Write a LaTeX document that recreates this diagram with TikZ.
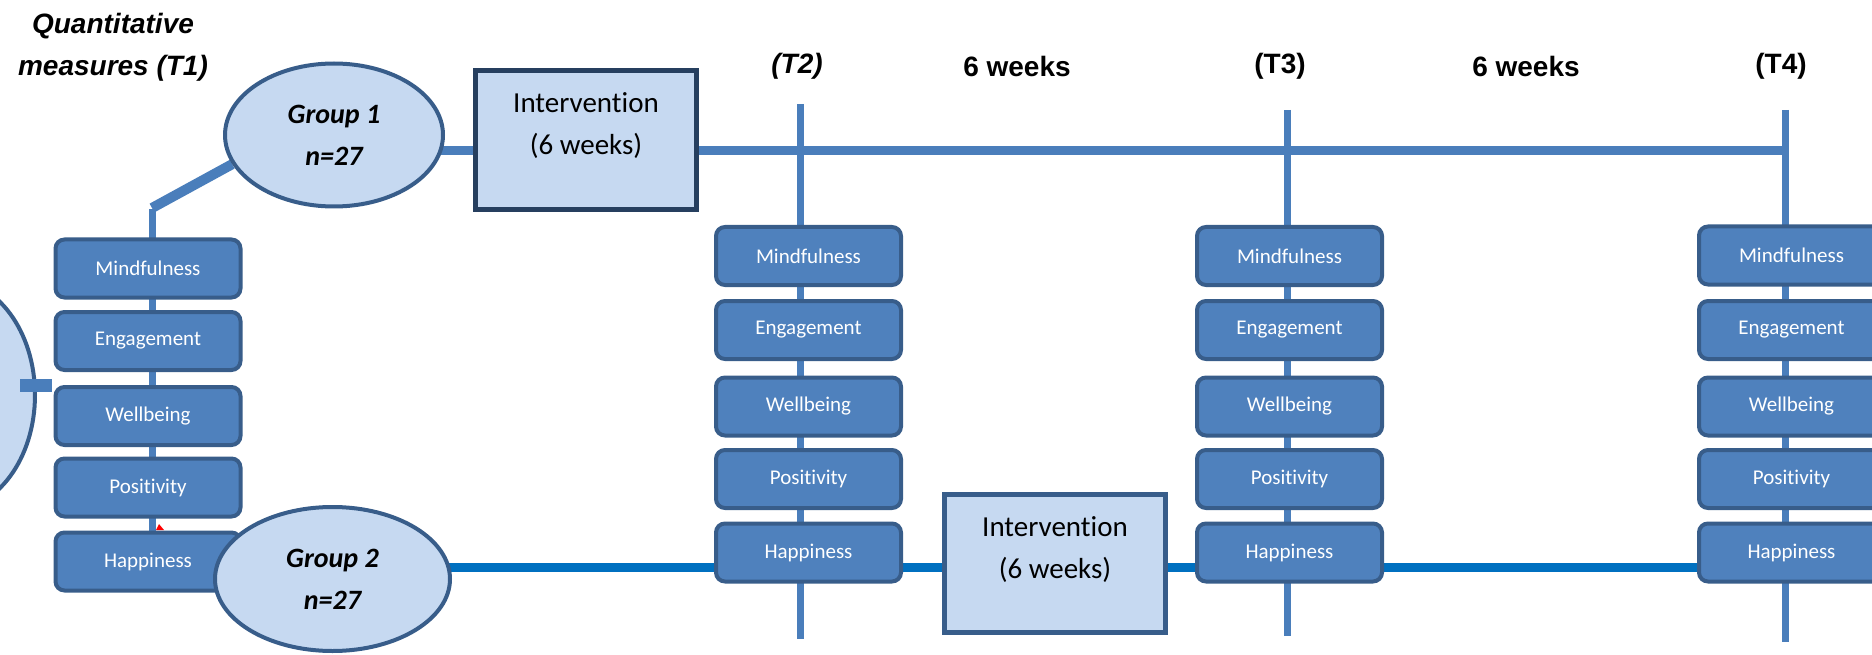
\documentclass[tikz,border=0pt]{standalone}
\usepackage{fontspec}
\setmainfont{Carlito}[Ligatures=NoCommon]
\newfontfamily\arialf{Liberation Sans}
\usetikzlibrary{shapes.geometric,backgrounds}
\definecolor{boxfill}{HTML}{4F81BD}
\definecolor{boxline}{HTML}{385D8A}
\definecolor{lightfill}{HTML}{C6D9F1}
\definecolor{navy}{HTML}{263F5F}
\definecolor{linea}{HTML}{4A7EBB}
\definecolor{lineb}{HTML}{0070C0}
\begin{document}
\begin{tikzpicture}[x=1pt,y=-1pt,
 mbox/.style={draw=boxline, fill=boxfill, line width=4pt, rounded corners=9pt, minimum width=185pt, minimum height=58pt, inner sep=0pt, text=white, font=\fontsize{21}{25}\selectfont},
 grp/.style={ellipse, draw=boxline, fill=lightfill, line width=4pt, inner sep=0pt, align=center, font=\fontsize{28}{42}\selectfont\bfseries\itshape},
 ibox/.style={draw=boxline, fill=lightfill, line width=5pt, minimum width=221pt, minimum height=139pt, inner sep=0pt},
 itext/.style={align=center, font=\fontsize{29}{42}\selectfont, inner sep=0pt},
 lbl/.style={font=\arialf\fontsize{28}{42}\selectfont\bfseries, inner sep=0pt, align=center},
 tline/.style={draw=linea, line width=7pt},
 gline/.style={draw=linea, line width=9pt},
 hline/.style={draw=lineb, line width=9pt}
]
\useasboundingbox (0,0) rectangle (1872,655);

% labels
\node[lbl, font=\arialf\fontsize{28}{42}\selectfont\bfseries\itshape] (q1) at (113,47) {Quantitative\\measures (T1)};
\node[lbl, font=\arialf\fontsize{28}{42}\selectfont\bfseries\itshape] (lt2) at (797,66) {(T2)};
\node[lbl] (w1) at (1017,66) {6 weeks};
\node[lbl] (lt3) at (1280,66) {(T3)};
\node[lbl] (w2) at (1526,66) {6 weeks};
\node[lbl] (lt4) at (1781,66) {(T4)};

% left (cut-off) ellipse
\node[ellipse, draw=boxline, fill=lightfill, line width=4pt, minimum width=170pt, minimum height=230pt] (all) at (-50,395) {};

% T1 column
\node[mbox] (t1m) at (148,268.5) {Mindfulness};
\node[mbox] (t1e) at (148,341) {Engagement};
\node[mbox] (t1w) at (148,416) {Wellbeing};
\node[mbox] (t1p) at (148,487.5) {Positivity};
\node[mbox] (t1h) at (148,561.5) {Happiness};

% groups
\node[grp, minimum width=218pt, minimum height=143pt] (g1) at (334,135) {Group 1\\n=27};
\node[grp, minimum width=235pt, minimum height=144pt] (g2) at (332.5,579) {Group 2\\n=27};

% interventions
\node[ibox, draw=navy] (i1) at (586,140) {};
\node[itext] (i1t) at ([yshift=14pt]i1.center) {Intervention\\(6 weeks)};
\node[ibox, minimum height=138pt] (i2) at (1055,563.5) {};
\node[itext] (i2t) at ([yshift=14pt]i2.center) {Intervention\\(6 weeks)};

% T2 column
\node[mbox] (t2m) at (808.5,256) {Mindfulness};
\node[mbox] (t2e) at (808.5,330) {Engagement};
\node[mbox] (t2w) at (808.5,406.5) {Wellbeing};
\node[mbox] (t2p) at (808.5,479) {Positivity};
\node[mbox] (t2h) at (808.5,552.5) {Happiness};

% T3 column
\node[mbox] (t3m) at (1289.5,256) {Mindfulness};
\node[mbox] (t3e) at (1289.5,330) {Engagement};
\node[mbox] (t3w) at (1289.5,406.5) {Wellbeing};
\node[mbox] (t3p) at (1289.5,479) {Positivity};
\node[mbox] (t3h) at (1289.5,552.5) {Happiness};

% T4 column
\node[mbox] (t4m) at (1791.5,255.5) {Mindfulness};
\node[mbox] (t4e) at (1791.5,330) {Engagement};
\node[mbox] (t4w) at (1791.5,406.5) {Wellbeing};
\node[mbox] (t4p) at (1791.5,479) {Positivity};
\node[mbox] (t4h) at (1791.5,552.5) {Happiness};

% coordinates
\coordinate (d1) at (152,208);
\coordinate (v2t) at (800,104);
\coordinate (v2b) at (800,639);
\coordinate (v3t) at (1287,110);
\coordinate (v3b) at (1287,636);
\coordinate (v4t) at (1785,110);
\coordinate (v4b) at (1785,642);
\coordinate (l1) at (440,150.5);
\coordinate (j4) at (1785,150.5);
\coordinate (l2) at (448,567);
\coordinate (s1) at (20,385);

\begin{scope}[on background layer]
  % T1 connections
  \draw[draw=linea, line width=10pt] (g1.196) -- (d1);
  \draw[tline] ([yshift=-1pt]d1) -- (d1 |- t1h.center);
  % time-point verticals
  \draw[tline] (v2t) -- (v2b);
  \draw[tline] (v3t) -- (v3b);
  \draw[tline] (v4t) -- (v4b);
  % group 1 line
  \draw[gline] (l1) -- (l1 -| i1.west);
  \draw[gline] (l1 -| i1.east) -- (j4);
  % group 2 line
  \draw[hline] (l2) -- (l2 -| t2h.west);
  \draw[hline] (l2 -| t2h.east) -- (l2 -| i2.west);
  \draw[hline] (l2 -| i2.east) -- (l2 -| t3h.west);
  \draw[hline] (l2 -| t3h.east) -- (l2 -| t4h.west);
\end{scope}

% stub from left ellipse
\draw[draw=linea, line width=13pt] (s1) -- ([xshift=-2pt]s1 -| t1w.west);
% small red mark
\fill[red] (156,530) -- (159,524) -- (164,530) -- cycle;
\end{tikzpicture}
\end{document}
